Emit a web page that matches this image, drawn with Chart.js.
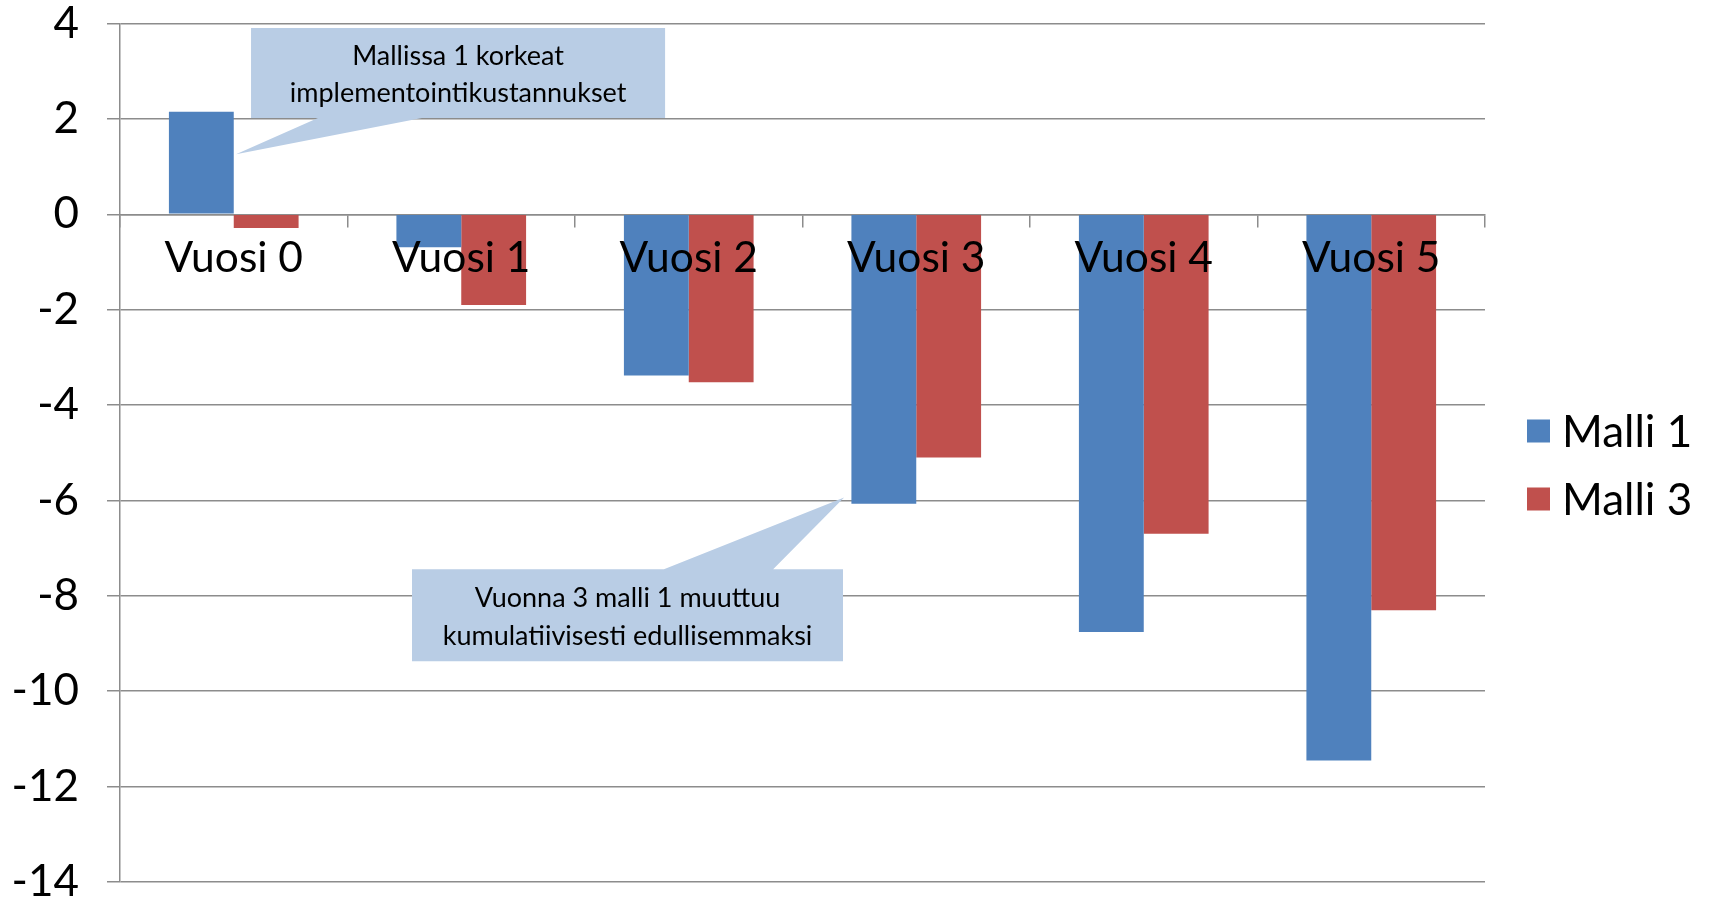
<!DOCTYPE html>
<html>
<head>
<meta charset="utf-8">
<script src="https://cdn.jsdelivr.net/npm/chart.js@4/dist/chart.umd.min.js"></script>
<style>
  html, body { margin: 0; padding: 0; background: #ffffff; }
  #wrap { width: 1710px; height: 900px; }
</style>
</head>
<body>
<div id="wrap"><canvas id="c" width="1710" height="900"></canvas></div>
<script>
// Kumulatiiviset kustannukset malleittain
const categories = ['Vuosi 0', 'Vuosi 1', 'Vuosi 2', 'Vuosi 3', 'Vuosi 4', 'Vuosi 5'];
const malli1 = [2.15, -0.69, -3.38, -6.07, -8.76, -11.45];
const malli3 = [-0.29, -1.9, -3.52, -5.1, -6.7, -8.3];
const seriesNames = ['Malli 1', 'Malli 3'];
const yMin = -14;
const yMax = 4;
const yStep = 2;

const noteTop = ['Mallissa 1 korkeat', 'implementointikustannukset'];
const noteBottom = ['Vuonna 3 malli 1 muuttuu', 'kumulatiivisesti edullisemmaksi'];

const FONT = 'Lato, "Open Sans", sans-serif';
const BLUE = '#4F81BD';
const RED = '#C0504D';
const GRID = '#8c8c8c';
const NOTE_FILL = '#B9CDE5';

// Callout boxes, placed in category-index / value space so they follow the axes
const callouts = [
  {
    lines: noteTop,
    box: { x0: 0.076, x1: 1.896, y0: 3.905, y1: 2.02 },
    base: { x0: 0.37, x1: 0.827, edge: 'bottom' },
    tip: { x: 0.01, y: 1.26 }
  },
  {
    lines: noteBottom,
    box: { x0: 0.7835, x1: 2.678, y0: -7.445, y1: -9.37 },
    base: { x0: 1.891, x1: 2.371, edge: 'top' },
    tip: { x: 2.683, y: -5.94 }
  }
];

const calloutPlugin = {
  id: 'callouts',
  afterDraw(chart) {
    const { ctx, scales: { x, y } } = chart;
    ctx.save();
    callouts.forEach(c => {
      const bx0 = x.getPixelForValue(c.box.x0), bx1 = x.getPixelForValue(c.box.x1);
      const by0 = y.getPixelForValue(c.box.y0), by1 = y.getPixelForValue(c.box.y1);
      const px0 = x.getPixelForValue(c.base.x0), px1 = x.getPixelForValue(c.base.x1);
      const tx = x.getPixelForValue(c.tip.x), ty = y.getPixelForValue(c.tip.y);
      ctx.fillStyle = NOTE_FILL;
      ctx.beginPath();
      ctx.moveTo(bx0, by0);
      if (c.base.edge === 'top') {
        ctx.lineTo(px0, by0); ctx.lineTo(tx, ty); ctx.lineTo(px1, by0);
      }
      ctx.lineTo(bx1, by0);
      ctx.lineTo(bx1, by1);
      if (c.base.edge === 'bottom') {
        ctx.lineTo(px1, by1); ctx.lineTo(tx, ty); ctx.lineTo(px0, by1);
      }
      ctx.lineTo(bx0, by1);
      ctx.closePath();
      ctx.fill();

      ctx.fillStyle = '#000';
      ctx.font = '27px ' + FONT;
      ctx.textAlign = 'center';
      ctx.textBaseline = 'middle';
      const cx = (bx0 + bx1) / 2;
      const cy = (by0 + by1) / 2 + 2;
      const lh = 37.5;
      c.lines.forEach((t, i) => {
        ctx.fillText(t, cx, cy + (i - (c.lines.length - 1) / 2) * lh);
      });
    });
    ctx.restore();
  }
};

// Legend at the right, drawn beside the plot area
const legendPlugin = {
  id: 'sideLegend',
  afterDraw(chart) {
    const { ctx, chartArea } = chart;
    const boxX = chartArea.right + 42;
    const rows = [431, 499];
    ctx.save();
    ctx.font = '44px ' + FONT;
    ctx.textBaseline = 'middle';
    ctx.textAlign = 'left';
    chart.data.datasets.forEach((ds, i) => {
      const cy = rows[i];
      ctx.fillStyle = ds.backgroundColor;
      ctx.fillRect(boxX, cy - 11.5, 23, 23);
      ctx.fillStyle = '#000';
      ctx.fillText(ds.label, boxX + 35, cy + 2);
    });
    ctx.restore();
  }
};

new Chart(document.getElementById('c'), {
  type: 'bar',
  data: {
    labels: categories,
    datasets: [
      { label: seriesNames[0], data: malli1, backgroundColor: BLUE, borderWidth: 0 },
      { label: seriesNames[1], data: malli3, backgroundColor: RED, borderWidth: 0 }
    ]
  },
  options: {
    responsive: false,
    animation: false,
    devicePixelRatio: 1,
    layout: { padding: { left: 0, right: 225, top: 23.5, bottom: 18 } },
    datasets: { bar: { categoryPercentage: 0.57, barPercentage: 1.0 } },
    plugins: { legend: { display: false }, tooltip: { enabled: false } },
    scales: {
      x: {
        position: { y: 0 },
        offset: true,
        grid: { display: true, offset: true, drawOnChartArea: false, drawTicks: true, tickLength: 12, color: GRID, lineWidth: 1.5 },
        border: { display: true, color: GRID, width: 1.5 },
        ticks: { color: '#000', font: { family: FONT, size: 42.5 }, padding: 7, maxRotation: 0, z: 1 }
      },
      y: {
        min: yMin,
        max: yMax,
        grid: { color: GRID, lineWidth: 1.5, tickLength: 13 },
        border: { display: true, color: GRID, width: 1.5 },
        ticks: { stepSize: yStep, color: '#000', font: { family: FONT, size: 44 }, padding: 28 },
        afterFit(scale) {
          scale.width = 120;
          scale.paddingTop = 0;
          scale.paddingBottom = 0;
        }
      }
    }
  },
  plugins: [calloutPlugin, legendPlugin]
});
</script>
</body>
</html>
